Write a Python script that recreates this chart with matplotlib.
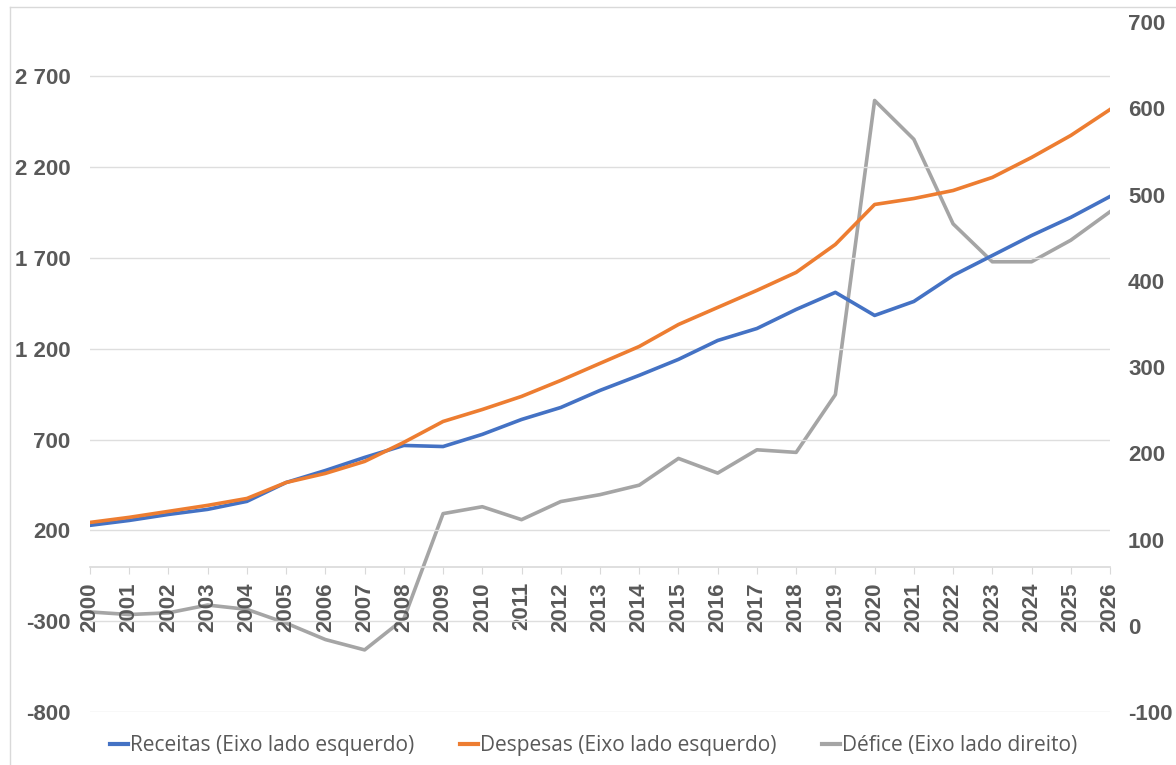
import numpy as np
import matplotlib
matplotlib.use("Agg")
import matplotlib.pyplot as plt
from matplotlib.ticker import FuncFormatter, MultipleLocator, FixedLocator
from matplotlib.lines import Line2D

# Dados (milhares de milhões)
anos = list(range(2000, 2027))
receitas = [228, 255, 288, 316, 360, 464, 530, 602, 668, 662, 729, 811, 877, 971, 1054,
            1142, 1246, 1312, 1417, 1511, 1384, 1461, 1604, 1714, 1824, 1924, 2039]
despesas = [244, 272, 305, 338, 376, 464, 514, 580, 685, 800, 866, 938, 1026, 1120, 1213,
            1334, 1428, 1522, 1621, 1775, 1995, 2028, 2072, 2144, 2254, 2375, 2518]
defice = [16, 13, 15, 24, 19, 3, -16, -28, 8, 130, 138, 123, 144, 152, 163,
          194, 177, 204, 201, 268, 609, 564, 466, 422, 422, 447, 480]

nomes = ["Receitas (Eixo lado esquerdo)", "Despesas (Eixo lado esquerdo)",
         "Défice (Eixo lado direito)"]
cores = ["#4472C4", "#ED7D31", "#A5A5A5"]
cinza_txt = "#595959"

def milhares(v, pos):
    s = f"{int(round(v)):,}".replace(",", " ")
    return s

fig = plt.figure(figsize=(11.76, 7.65), dpi=100)
ax = fig.add_axes([90/1176, 1 - 712/765, (1110 - 90)/1176, (712 - 22)/765])
ax2 = ax.twinx()

x = np.array(anos)
ax2.plot(x, defice, color=cores[2], lw=2.6, solid_joinstyle="round", zorder=2)
ax.plot(x, receitas, color=cores[0], lw=2.6, solid_joinstyle="round", zorder=3)
ax.plot(x, despesas, color=cores[1], lw=2.6, solid_joinstyle="round", zorder=3)
ax.set_zorder(ax2.get_zorder() + 1)
ax.patch.set_visible(False)

ax.set_xlim(2000, 2026)
ax.set_ylim(-800, 3000)
ax2.set_ylim(-100, 700)
ax.yaxis.set_major_locator(FixedLocator([-800, -300, 200, 700, 1200, 1700, 2200, 2700]))
ax2.yaxis.set_major_locator(MultipleLocator(100))
ax.yaxis.set_major_formatter(FuncFormatter(milhares))
ax2.yaxis.set_major_formatter(FuncFormatter(milhares))

ax.grid(axis="y", color="#DEDEDE", lw=1)
ax.set_axisbelow(True)

for a in (ax, ax2):
    for s in ("top", "left", "right"):
        a.spines[s].set_visible(False)
ax2.spines["bottom"].set_visible(False)

# eixo das categorias cruza em 0 no eixo esquerdo
ax.spines["bottom"].set_position(("data", 0))
ax.spines["bottom"].set_color("#D9D9D9")
ax.spines["bottom"].set_linewidth(1.2)
ax.set_xticks(anos)
ax.set_xticklabels([str(a) for a in anos], rotation=90, va="top")
ax.tick_params(axis="x", direction="out", length=5, color="#D9D9D9", pad=6,
               labelsize=16, labelcolor=cinza_txt)
for lb in ax.get_xticklabels():
    lb.set_fontweight("bold")
    lb.set_fontfamily("Liberation Sans")

ax.tick_params(axis="y", length=0, pad=14, labelsize=16, labelcolor=cinza_txt)
ax2.tick_params(axis="y", length=0, pad=13, labelsize=16, labelcolor=cinza_txt)
for lb in ax.get_yticklabels() + ax2.get_yticklabels():
    lb.set_fontweight("bold")
    lb.set_fontfamily("Liberation Sans")

# moldura do gráfico
fig.add_artist(Line2D([10/1176, 10/1176], [0, 1 - 7/765], color="#D9D9D9", lw=1))
fig.add_artist(Line2D([10/1176, 1], [1 - 7/765, 1 - 7/765], color="#D9D9D9", lw=1))

handles = [Line2D([], [], color=c, lw=3) for c in cores]
fig.legend(handles, nomes, loc="center", bbox_to_anchor=(0.505, 1 - 746/765), ncol=3,
           frameon=False, handlelength=0.85, handletextpad=0.1, columnspacing=2.2,
           prop={"family": "Open Sans", "size": 15}, labelcolor=cinza_txt)

fig.savefig("out.png", dpi=100)
